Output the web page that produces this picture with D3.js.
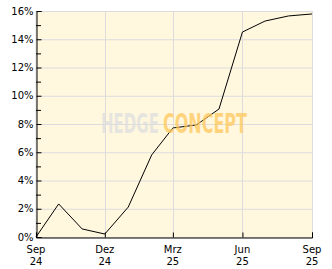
<!DOCTYPE html>
<html>
<head>
<meta charset="utf-8">
<script src="https://cdn.jsdelivr.net/npm/d3@7"></script>
<style>
  body { margin: 0; background: #fff; }
  svg { display: block; }
  text { font-family: "DejaVu Sans", sans-serif; font-size: 10px; fill: #000; }
</style>
</head>
<body>
<svg width="332" height="269"></svg>
<script>
const svg = d3.select("svg");

// monthly performance values in percent
const months = ["2024-09", "2024-10", "2024-11", "2024-12", "2025-01", "2025-02", "2025-03",
  "2025-04", "2025-05", "2025-06", "2025-07", "2025-08", "2025-09"];
const values = [0, 2.34, 0.57, 0.21, 2.12, 5.81, 7.72, 7.93, 9.06, 14.51, 15.29, 15.65, 15.79];

const xTicks = ["2024-09", "2024-12", "2025-03", "2025-06", "2025-09"];
const xTickMonth = ["Sep", "Dez", "Mrz", "Jun", "Sep"];
const xTickYear = ["24", "24", "25", "25", "25"];
const yTicks = [0, 2, 4, 6, 8, 10, 12, 14, 16];

const parse = d3.timeParse("%Y-%m");
const data = months.map((m, i) => ({ date: parse(m), value: values[i] }));

const pLeft = 36, pRight = 312, pTop = 11, pBottom = 237;

const x = d3.scaleTime()
  .domain([parse("2024-09"), parse("2025-09")])
  .range([pLeft, pRight]);

const y = d3.scaleLinear().domain([0, 16]).range([pBottom, pTop]);

// plot background
svg.append("rect")
  .attr("x", pLeft).attr("y", pTop + 0.5)
  .attr("width", pRight - pLeft + 0.5).attr("height", pBottom - pTop)
  .attr("fill", "#fff7de")
  .attr("stroke", "#dcdcdc");

// grid
svg.append("g").selectAll("line").data(yTicks.slice(1)).join("line")
  .attr("x1", pLeft).attr("x2", pRight)
  .attr("y1", d => y(d) + 0.5).attr("y2", d => y(d) + 0.5)
  .attr("stroke", "#dcdcdc");

svg.append("g").selectAll("line").data(xTicks.slice(1)).join("line")
  .attr("x1", d => Math.round(x(parse(d))) + 0.5).attr("x2", d => Math.round(x(parse(d))) + 0.5)
  .attr("y1", pTop).attr("y2", pBottom)
  .attr("stroke", "#dcdcdc");

// line
const line = d3.line().x(d => x(d.date)).y(d => y(d.value));
svg.append("path")
  .datum(data)
  .attr("d", line)
  .attr("fill", "none")
  .attr("stroke", "#000")
  .attr("stroke-width", 1);

// watermark: squeeze each word to its width with a transform
function mark(word, x0, width, color) {
  const t = svg.append("text")
    .style("font", "bold 26px 'DejaVu Sans Condensed', sans-serif")
    .style("fill", color).style("fill-opacity", 0.75)
    .text(word);
  const s = width / t.node().getComputedTextLength();
  t.attr("transform", `translate(${x0},133) scale(${s},1)`);
}
mark("HEDGE", 101, 58, "#dedede");
mark("CONCEPT", 163, 84, "#ffc85a");

// axes
const yAxis = d3.axisLeft(y).tickValues(yTicks).tickFormat(d => d + "%").tickSize(-5).tickPadding(8);
const gy = svg.append("g").attr("transform", `translate(${pLeft + 0.5},0)`).call(yAxis);
gy.select(".domain").attr("stroke", "#000");
gy.selectAll("text").attr("font-family", "DejaVu Sans, sans-serif").attr("font-size", 10).attr("dx", 5);

// minor ticks
svg.append("g").selectAll("line").data(d3.range(1, 16, 2)).join("line")
  .attr("x1", pLeft).attr("x2", pLeft + 5)
  .attr("y1", d => y(d) + 0.5).attr("y2", d => y(d) + 0.5)
  .attr("stroke", "#000");

const xAxis = d3.axisBottom(x).tickValues(xTicks.map(parse)).tickFormat("").tickSize(-5);
const gx = svg.append("g").attr("transform", `translate(0,${pBottom + 0.5})`).call(xAxis);
gx.select(".domain").attr("stroke", "#000");
gx.selectAll(".tick line").attr("stroke", "#000");

const xl = svg.append("g");
xl.selectAll("text.m").data(xTicks).join("text")
  .attr("class", "m")
  .attr("x", d => x(parse(d)))
  .attr("y", 253)
  .attr("text-anchor", "middle")
  .text((d, i) => xTickMonth[i]);
xl.selectAll("text.yr").data(xTicks).join("text")
  .attr("class", "yr")
  .attr("x", d => x(parse(d)))
  .attr("y", 265)
  .attr("text-anchor", "middle")
  .text((d, i) => xTickYear[i]);
</script>
</body>
</html>
